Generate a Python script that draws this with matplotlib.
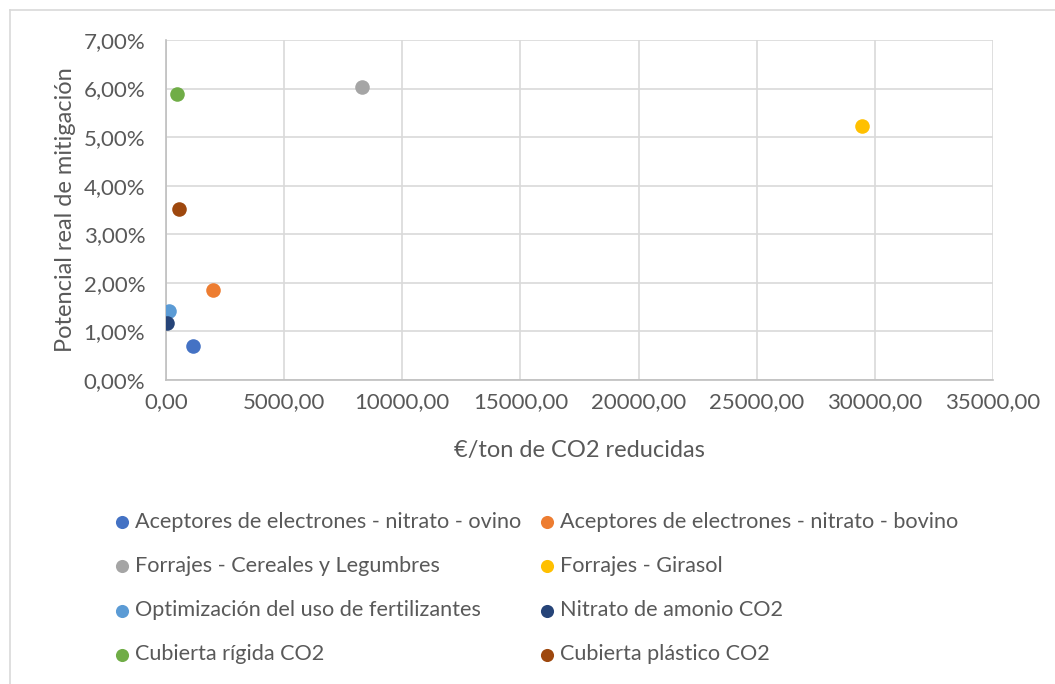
import matplotlib
matplotlib.use("Agg")
from matplotlib import pyplot as plt
from matplotlib.ticker import FuncFormatter, MultipleLocator
from matplotlib.lines import Line2D

plt.rcParams['font.family'] = ['Lato', 'DejaVu Sans']

# data
series_names = [
    'Aceptores de electrones - nitrato - ovino',
    'Aceptores de electrones - nitrato - bovino',
    'Forrajes - Cereales y Legumbres',
    'Forrajes - Girasol',
    'Optimización del uso de fertilizantes',
    'Nitrato de amonio CO2',
    'Cubierta rígida CO2',
    'Cubierta plástico CO2',
]
cost_per_ton = [1160, 1975, 8300, 29470, 115, 30, 455, 550]
mitigation = [0.0070, 0.0185, 0.0603, 0.0522, 0.0143, 0.0118, 0.0589, 0.0353]
colors = ['#4472C4', '#ED7D31', '#A5A5A5', '#FFC000',
          '#5B9BD5', '#264478', '#70AD47', '#9E480E']

text_color = '#595959'
grid_color = '#D9D9D9'

W, H = 1055, 684
fig = plt.figure(figsize=(W / 100, H / 100), dpi=100)

# outer chart border (Excel style)
fig.add_artist(Line2D([10 / W, 1], [1 - 10 / H, 1 - 10 / H], color=grid_color, lw=1.2))
fig.add_artist(Line2D([10 / W, 10 / W], [0, 1 - 10 / H], color=grid_color, lw=1.2))

ax = fig.add_axes([166 / W, 1 - 380 / H, 827 / W, 340 / H])

handles = []
for name, x, y, c in zip(series_names, cost_per_ton, mitigation, colors):
    h = ax.scatter([x], [y], s=110, color=c, label=name, zorder=3, linewidths=0)
    handles.append(h)

ax.set_xlim(0, 35000)
ax.set_ylim(0, 0.07)
ax.xaxis.set_major_locator(MultipleLocator(5000))
ax.yaxis.set_major_locator(MultipleLocator(0.01))
ax.xaxis.set_major_formatter(FuncFormatter(lambda v, p: f'{v:.2f}'.replace('.', ',')))
ax.yaxis.set_major_formatter(FuncFormatter(lambda v, p: f'{v * 100:.2f}%'.replace('.', ',')))

ax.grid(True, color=grid_color, lw=1.2, zorder=0)
ax.set_axisbelow(True)
for side in ['top', 'right']:
    ax.spines[side].set_visible(False)
for side in ['left', 'bottom']:
    ax.spines[side].set_color('#BFBFBF')
    ax.spines[side].set_linewidth(1.2)
ax.tick_params(length=0, labelsize=16, colors=text_color)
ax.tick_params(axis='y', pad=15)
ax.tick_params(axis='x', pad=9)

ax.set_xlabel('€/ton de CO2 reducidas', fontsize=17, color=text_color, labelpad=20)
ax.set_ylabel('Potencial real de mitigación', fontsize=17, color=text_color, labelpad=5)

# Excel fills the legend row by row, matplotlib column by column
order = [0, 2, 4, 6, 1, 3, 5, 7]
fig.legend([handles[i] for i in order], [series_names[i] for i in order],
           loc='upper left', bbox_to_anchor=(100 / W, 1 - 503 / H), ncol=2,
           frameon=False, fontsize=15.6, labelcolor=text_color,
           handletextpad=0.0, columnspacing=0.6, labelspacing=1.12,
           markerscale=0.9, handlelength=1.2, borderaxespad=0)

fig.savefig('out.png', dpi=100)
